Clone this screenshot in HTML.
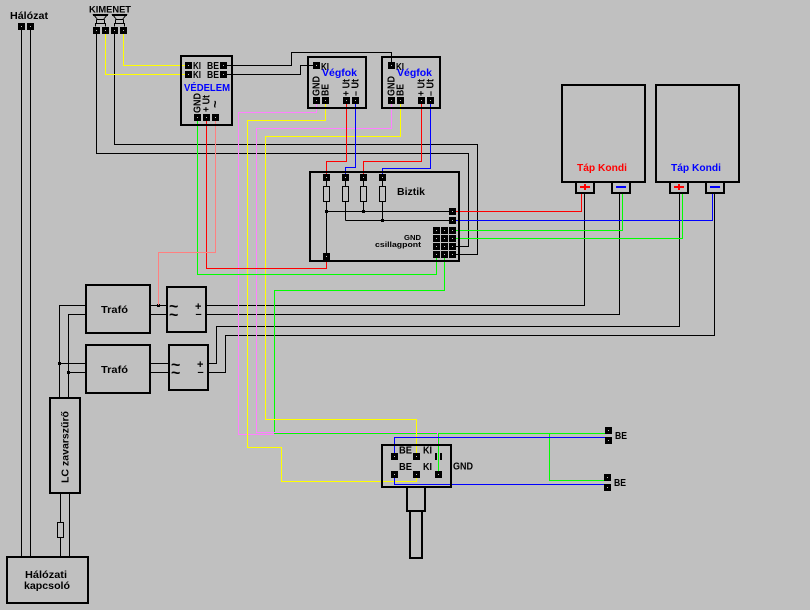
<!DOCTYPE html>
<html>
<head>
<meta charset="utf-8">
<title>Diagram</title>
<style>
html,body{margin:0;padding:0;background:#c0c0c0;width:810px;height:610px;overflow:hidden}
svg{display:block}
text{font-family:"Liberation Sans",sans-serif;font-weight:bold;fill:#000;font-size:10px}
.l{fill:none;stroke:#000;stroke-width:1}
.b{fill:none;stroke:#000;stroke-width:2}
.y{fill:none;stroke:#ffff00;stroke-width:1}
.p{fill:none;stroke:#ff80ff;stroke-width:1}
.r{fill:none;stroke:#ff0000;stroke-width:1}
.u{fill:none;stroke:#0000ff;stroke-width:1}
.g{fill:none;stroke:#00ff00;stroke-width:1}
.s{fill:none;stroke:#ff8080;stroke-width:1}
</style>
</head>
<body>
<svg width="810" height="610" viewBox="0 0 810 610" xmlns="http://www.w3.org/2000/svg" shape-rendering="crispEdges">
<defs>
<g id="t"><rect x="-3.5" y="-3.5" width="7" height="7" fill="#000"/><rect x="-.5" y="-.5" width="1" height="1" fill="#c0c0c0"/></g>
<g id="sp"><path d="M93.5 14.5H107.5L103.5 19.5H97.5Z M96.5 19.5V23.5H104.5V19.5 M95.5 26.5V23.5H105.5V26.5" fill="none" stroke="#000"/><rect x="93" y="14" width="15" height="2" fill="#000"/></g>
</defs>
<rect width="810" height="610" fill="#c0c0c0"/>

<!-- black wiring -->
<path class="l" d="M21.5 26V557M30.5 26V557"/>
<path class="l" d="M96.5 30V153.5H468.5V246.5H452"/>
<path class="l" d="M114.5 30V144.5H477.5V254.5H452"/>
<path class="l" d="M223 65.5H291.5V52.5H391.5V65"/>
<path class="l" d="M223 74.5H300.5V65.5H316"/>
<path class="l" d="M150 305.5H167M150 314.5H167M150 363.5H169M150 372.5H169"/>
<path class="l" d="M206 305.5H584.5V193M206 314.5H619.5V193"/>
<path class="l" d="M208 363.5H216.5V326.5H679.5V193"/>
<path class="l" d="M208 372.5H225.5V335.5H714.5V193"/>
<path class="l" d="M86 305.5H59.5V398M86 314.5H68.5V398M59 363.5H86M68 372.5H86"/>
<path class="l" d="M60.5 493V557M69.5 493V557"/>
<rect x="57.5" y="522.5" width="6" height="15" fill="#c0c0c0" stroke="#000"/>

<!-- inside Biztik -->
<path class="l" d="M326.5 177V256M345.5 177V220.5M363.5 177V211.5M382.5 177V220.5M326.5 211.5H452M345.5 220.5H452"/>
<rect x="323.5" y="186.5" width="6" height="15" fill="#c0c0c0" stroke="#000"/>
<rect x="342.5" y="186.5" width="6" height="15" fill="#c0c0c0" stroke="#000"/>
<rect x="360.5" y="186.5" width="6" height="15" fill="#c0c0c0" stroke="#000"/>
<rect x="379.5" y="186.5" width="6" height="15" fill="#c0c0c0" stroke="#000"/>
<rect x="325" y="210" width="3" height="3" fill="#000"/>
<rect x="362" y="210" width="3" height="3" fill="#000"/>
<rect x="381" y="219" width="3" height="3" fill="#000"/>
<rect x="58" y="362" width="3" height="3" fill="#000"/>
<rect x="67" y="371" width="3" height="3" fill="#000"/>
<rect x="157" y="304" width="3" height="3" fill="#000"/>

<!-- coloured wiring -->
<path class="y" d="M123.5 30V65.5H185M105.5 30V74.5H185"/>
<path class="g" d="M444.5 254V290.5H274.5V433.5H605M438.5 433.5V474M549.5 433.5V480.5H604"/>
<path class="p" d="M316.5 100V112.5H238.5V434.5H274"/>
<path class="y" d="M325.5 100V120.5H247.5V447.5H281.5V481.5H416.5V474"/>
<path class="p" d="M391.5 100V128.5H256.5V432.5H437.5V445"/>
<path class="y" d="M400.5 100V136.5H265.5V419.5H416.5V456"/>
<path class="r" d="M346.5 100V161.5H326.5V177"/>
<path class="u" d="M355.5 100V167.5H345.5V177"/>
<path class="r" d="M421.5 100V161.5H363.5V177"/>
<path class="u" d="M430.5 100V168.5H382.5V177"/>
<path class="g" d="M197.5 117V274.5H436.5V254"/>
<path class="r" d="M206.5 117V268.5H326.5V256"/>
<path class="s" d="M215.5 117V252.5H158.5V305"/>
<path class="u" d="M394.5 456V437.5H605M394.5 474V484.5H604"/>
<path class="r" d="M452 211.5H581.5V193"/>
<path class="u" d="M452 220.5H712.5V193"/>
<path class="g" d="M452 230.5H622.5V193M452 238.5H682.5V193"/>

<!-- boxes -->
<g class="b">
<rect x="181" y="56" width="51" height="69"/>
<rect x="308" y="57" width="58" height="51"/>
<rect x="382" y="57" width="58" height="51"/>
<rect x="310" y="172" width="149" height="89"/>
<rect x="562" y="85" width="83" height="97"/>
<rect x="656" y="85" width="83" height="97"/>
<rect x="576" y="182" width="18" height="11"/>
<rect x="612" y="182" width="18" height="11"/>
<rect x="670" y="182" width="18" height="11"/>
<rect x="706" y="182" width="18" height="11"/>
<rect x="86" y="285" width="64" height="48"/>
<rect x="86" y="345" width="64" height="48"/>
<rect x="167" y="287" width="39" height="45"/>
<rect x="169" y="345" width="39" height="45"/>
<rect x="50" y="398" width="30" height="95"/>
<rect x="7" y="557" width="81" height="46"/>
<rect x="382" y="445" width="69" height="42"/>
<rect x="407" y="487" width="18" height="24"/>
<rect x="410" y="511" width="12" height="47"/>
</g>
<rect x="580" y="186" width="10" height="2" fill="#ff0000"/><rect x="584" y="184" width="2" height="6" fill="#ff0000"/>
<rect x="616" y="186" width="10" height="2" fill="#0000ff"/>
<rect x="674" y="186" width="10" height="2" fill="#ff0000"/><rect x="678" y="184" width="2" height="6" fill="#ff0000"/>
<rect x="710" y="186" width="10" height="2" fill="#0000ff"/>
<rect x="435" y="453" width="2" height="7" fill="#000"/><rect x="440" y="453" width="2" height="7" fill="#000"/>

<!-- speakers -->
<use href="#sp"/>
<use href="#sp" x="19"/>

<!-- terminals -->
<use href="#t" x="21.5" y="26.5"/><use href="#t" x="30.5" y="26.5"/>
<use href="#t" x="96.5" y="30.5"/><use href="#t" x="105.5" y="30.5"/><use href="#t" x="114.5" y="30.5"/><use href="#t" x="123.5" y="30.5"/>
<use href="#t" x="188.5" y="65.5"/><use href="#t" x="188.5" y="74.5"/><use href="#t" x="223.5" y="65.5"/><use href="#t" x="223.5" y="74.5"/>
<use href="#t" x="197.5" y="117.5"/><use href="#t" x="206.5" y="117.5"/><use href="#t" x="215.5" y="117.5"/>
<use href="#t" x="316.5" y="65.5"/><use href="#t" x="316.5" y="100.5"/><use href="#t" x="325.5" y="100.5"/><use href="#t" x="346.5" y="100.5"/><use href="#t" x="355.5" y="100.5"/>
<use href="#t" x="391.5" y="65.5"/><use href="#t" x="391.5" y="100.5"/><use href="#t" x="400.5" y="100.5"/><use href="#t" x="421.5" y="100.5"/><use href="#t" x="430.5" y="100.5"/>
<use href="#t" x="326.5" y="177.5"/><use href="#t" x="345.5" y="177.5"/><use href="#t" x="363.5" y="177.5"/><use href="#t" x="382.5" y="177.5"/>
<use href="#t" x="326.5" y="256.5"/>
<use href="#t" x="452.5" y="211.5"/><use href="#t" x="452.5" y="220.5"/>
<use href="#t" x="436.5" y="230.5"/><use href="#t" x="444.5" y="230.5"/><use href="#t" x="452.5" y="230.5"/>
<use href="#t" x="436.5" y="238.5"/><use href="#t" x="444.5" y="238.5"/><use href="#t" x="452.5" y="238.5"/>
<use href="#t" x="436.5" y="246.5"/><use href="#t" x="444.5" y="246.5"/><use href="#t" x="452.5" y="246.5"/>
<use href="#t" x="436.5" y="254.5"/><use href="#t" x="444.5" y="254.5"/><use href="#t" x="452.5" y="254.5"/>
<use href="#t" x="394.5" y="456.5"/><use href="#t" x="416.5" y="456.5"/>
<use href="#t" x="394.5" y="474.5"/><use href="#t" x="416.5" y="474.5"/><use href="#t" x="438.5" y="474.5"/>
<use href="#t" x="608.5" y="430.5"/><use href="#t" x="608.5" y="440.5"/>
<use href="#t" x="607.5" y="477.5"/><use href="#t" x="607.5" y="487.5"/>

<!-- labels -->
<g shape-rendering="auto">
<text x="10" y="19" textLength="38" lengthAdjust="spacingAndGlyphs">Hálózat</text>
<text x="89" y="12.5" style="font-size:9px" textLength="42" lengthAdjust="spacingAndGlyphs">KIMENET</text>
<text x="193" y="69" textLength="8" lengthAdjust="spacingAndGlyphs">KI</text>
<text x="193" y="78" textLength="8" lengthAdjust="spacingAndGlyphs">KI</text>
<text x="207" y="69" textLength="12" lengthAdjust="spacingAndGlyphs">BE</text>
<text x="207" y="78" textLength="12" lengthAdjust="spacingAndGlyphs">BE</text>
<text x="184" y="91" style="fill:#0000ff" textLength="46" lengthAdjust="spacingAndGlyphs">VÉDELEM</text>
<text transform="translate(200.5,113) rotate(-90)" textLength="20" lengthAdjust="spacingAndGlyphs">GND</text>
<text transform="translate(209.5,112) rotate(-90)" textLength="17" lengthAdjust="spacingAndGlyphs">+ Ut</text>
<text transform="translate(219.5,108) rotate(-90)" style="font-size:13px">~</text>

<text x="321" y="70" textLength="8" lengthAdjust="spacingAndGlyphs">KI</text>
<text x="322" y="76" style="fill:#0000ff" textLength="35" lengthAdjust="spacingAndGlyphs">Végfok</text>
<text transform="translate(319.5,96) rotate(-90)" textLength="20" lengthAdjust="spacingAndGlyphs">GND</text>
<text transform="translate(328.5,96) rotate(-90)" textLength="12" lengthAdjust="spacingAndGlyphs">BE</text>
<text transform="translate(349.5,96) rotate(-90)" textLength="17" lengthAdjust="spacingAndGlyphs">+ Ut</text>
<text transform="translate(358.5,96) rotate(-90)" textLength="17" lengthAdjust="spacingAndGlyphs">– Ut</text>

<text x="396" y="70" textLength="8" lengthAdjust="spacingAndGlyphs">KI</text>
<text x="397" y="76" style="fill:#0000ff" textLength="35" lengthAdjust="spacingAndGlyphs">Végfok</text>
<text transform="translate(394.5,96) rotate(-90)" textLength="20" lengthAdjust="spacingAndGlyphs">GND</text>
<text transform="translate(403.5,96) rotate(-90)" textLength="12" lengthAdjust="spacingAndGlyphs">BE</text>
<text transform="translate(424.5,96) rotate(-90)" textLength="17" lengthAdjust="spacingAndGlyphs">+ Ut</text>
<text transform="translate(433.5,96) rotate(-90)" textLength="17" lengthAdjust="spacingAndGlyphs">– Ut</text>

<text x="397" y="195" textLength="28" lengthAdjust="spacingAndGlyphs">Biztik</text>
<text x="404" y="240" style="font-size:7px" textLength="17" lengthAdjust="spacingAndGlyphs">GND</text>
<text x="375" y="247" style="font-size:7.5px" textLength="46" lengthAdjust="spacingAndGlyphs">csillagpont</text>

<text x="577" y="171" style="fill:#ff0000" textLength="50" lengthAdjust="spacingAndGlyphs">Táp Kondi</text>
<text x="671" y="171" style="fill:#0000ff" textLength="50" lengthAdjust="spacingAndGlyphs">Táp Kondi</text>

<text x="101" y="313" textLength="27" lengthAdjust="spacingAndGlyphs">Trafó</text>
<text x="101" y="373" textLength="27" lengthAdjust="spacingAndGlyphs">Trafó</text>

<text x="169" y="311.5" style="font-size:16px">~</text>
<text x="169" y="320" style="font-size:16px">~</text>
<text x="195" y="310" style="font-size:11px">+</text>
<text x="195.5" y="317.5" style="font-size:11px">–</text>
<text x="171" y="370" style="font-size:16px">~</text>
<text x="171" y="378" style="font-size:16px">~</text>
<text x="197" y="368" style="font-size:11px">+</text>
<text x="197.5" y="375.5" style="font-size:11px">–</text>

<text transform="translate(68.5,483) rotate(-90)" textLength="72" lengthAdjust="spacingAndGlyphs">LC zavarszűrő</text>

<text x="25" y="578" textLength="42" lengthAdjust="spacingAndGlyphs">Hálózati</text>
<text x="24" y="589" textLength="46" lengthAdjust="spacingAndGlyphs">kapcsoló</text>

<text x="399" y="453.5" textLength="13" lengthAdjust="spacingAndGlyphs">BE</text>
<text x="423" y="453.5" textLength="9" lengthAdjust="spacingAndGlyphs">KI</text>
<text x="399" y="470" textLength="13" lengthAdjust="spacingAndGlyphs">BE</text>
<text x="423" y="470" textLength="9" lengthAdjust="spacingAndGlyphs">KI</text>
<text x="453" y="469.5" textLength="20" lengthAdjust="spacingAndGlyphs">GND</text>
<text x="615" y="439" textLength="12" lengthAdjust="spacingAndGlyphs">BE</text>
<text x="614" y="486" textLength="12" lengthAdjust="spacingAndGlyphs">BE</text>
</g>
</svg>
</body>
</html>
